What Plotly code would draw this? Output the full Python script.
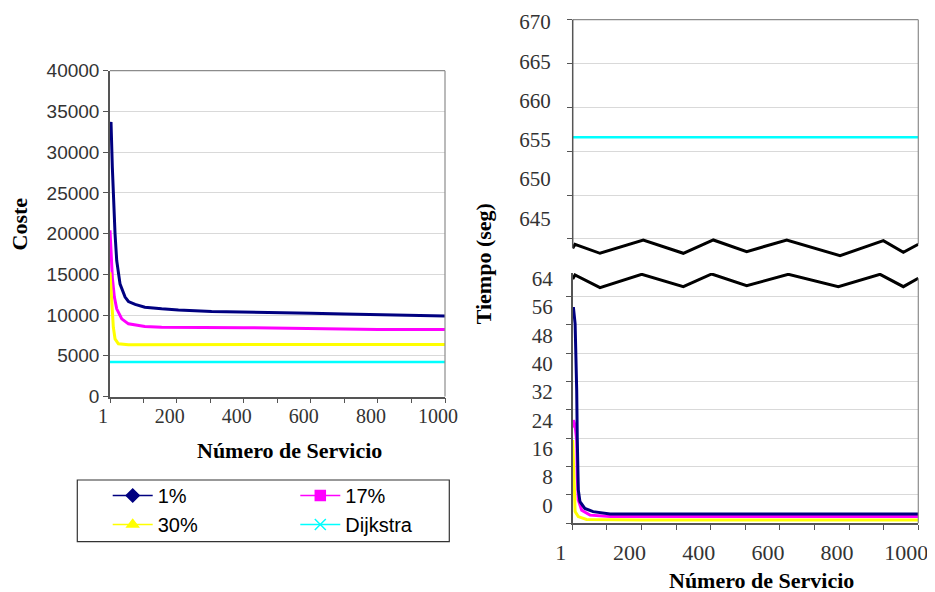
import plotly.graph_objects as go

# target picture is 935x592; the html body adds an 8px margin, so the figure is 927x584
PAGE_OFF = 8
W, H = 935 - PAGE_OFF, 592 - PAGE_OFF

# ---------------- data ----------------
# Left chart: Coste vs Número de Servicio
x_cost_1 = [1, 4, 8, 11, 16, 21, 31, 46, 56, 76, 105, 155, 205, 304, 400, 500, 600, 700, 800, 900, 1000]
cost_1 = [33000, 33700, 28100, 24000, 20000, 16700, 13800, 12200, 11660, 11300, 10960, 10760,
          10620, 10450, 10350, 10290, 10220, 10140, 10060, 9960, 9870]
x_cost_17 = [1, 4, 8, 14, 21, 36, 56, 105, 155, 400, 600, 800, 1000]
cost_17 = [20400, 17900, 14600, 12200, 10760, 9530, 8920, 8590, 8500, 8450, 8300, 8220, 8220]
x_cost_30 = [1, 6, 11, 16, 26, 56, 200, 600, 1000]
cost_30 = [15250, 11800, 8500, 7080, 6470, 6350, 6380, 6380, 6380]
x_cost_dij = [1, 1000]
cost_dij = [4250, 4250]

# Right chart: Tiempo (seg) vs Número de Servicio (broken axis)
x_time_1 = [1, 3, 8, 10.5, 12.6, 14.3, 17.2, 22, 36, 60, 89, 109, 1000]
time_1 = [58, 61, 56.3, 47, 37.5, 23.5, 9.4, 6.1, 4.2, 3.3, 2.8, 2.6, 2.6]
x_time_17 = [1, 3, 7.6, 12.6, 14.3, 17.2, 27, 51, 109, 1000]
time_17 = [27, 29.1, 27.8, 23.5, 13.1, 6.6, 3.7, 2.3, 1.9, 1.9]
x_time_30 = [1, 5, 8, 17, 41, 200, 1000]
time_30 = [23.5, 7.5, 3.3, 1.9, 1.1, 0.9, 0.9]
x_time_dij = [1, 1000]
time_dij = [656.6, 656.6]

series_names = ["1%", "17%", "30%", "Dijkstra"]
series_colors = ["#000080", "#FF00FF", "#FFFF00", "#00FFFF"]
series_symbols = ["diamond", "square", "triangle-up", "x-thin-open"]

x_tickvals = [1, 100, 200, 300, 400, 500, 600, 700, 800, 900, 1000]
x_ticktext = ["1", "", "200", "", "400", "", "600", "", "800", "", "1000"]
cost_ticks = [0, 5000, 10000, 15000, 20000, 25000, 30000, 35000, 40000]
time_ticks_high = [645, 650, 655, 660, 665, 670]
time_ticks_low = [0, 8, 16, 24, 32, 40, 48, 56, 64]

# axis-break zigzag (decoration)
break_x_up = [1, 7.6, 79.9, 205, 320.7, 407.5, 504, 619.7, 773.8, 899, 956.8, 1000]
break_y_up = [643.93, 644.39, 643.36, 644.88, 643.36, 644.88, 643.55, 644.88, 643.09, 644.80, 643.48, 644.39]
break_x_low = [1, 7.6, 79.9, 200.5, 320.7, 402.8, 504, 624.3, 768.9, 889.4, 956.8, 1000]
break_y_low = [68.9, 70.07, 66.48, 70.26, 66.77, 70.35, 67.05, 70.26, 66.77, 70.26, 66.77, 69.14]

# ---------------- figure ----------------
SERIF = "Liberation Serif"
SANS = "Liberation Sans"
AXC = "#555555"
GRID = "#d9d9d9"
TXT = "#333333"

Y2_RANGE = [642.8, 670]
Y3_RANGE = [0, 70.6]


def fx(p):
    return (p - PAGE_OFF) / W


def fy(p):
    return 1 - (p - PAGE_OFF) / H


fig = go.Figure()

left = [(x_cost_1, cost_1), (x_cost_17, cost_17), (x_cost_30, cost_30), (x_cost_dij, cost_dij)]
for i, (xs, ys) in enumerate(left):
    fig.add_trace(go.Scatter(x=xs, y=ys, mode="lines", xaxis="x", yaxis="y",
                             line=dict(color=series_colors[i], width=3 if i < 3 else 2.5),
                             showlegend=False, name=series_names[i]))

fig.add_trace(go.Scatter(x=x_time_dij, y=time_dij, mode="lines", xaxis="x2", yaxis="y2",
                         line=dict(color=series_colors[3], width=2.5), showlegend=False,
                         name=series_names[3]))
fig.add_trace(go.Scatter(x=[None], y=[None], xaxis="x2", yaxis="y4", showlegend=False,
                         hoverinfo="skip"))
fig.add_trace(go.Scatter(x=break_x_up, y=break_y_up, mode="lines", xaxis="x2", yaxis="y2",
                         line=dict(color="black", width=3), showlegend=False, hoverinfo="skip"))

right = [(x_time_30, time_30), (x_time_17, time_17), (x_time_1, time_1)]
right_idx = [2, 1, 0]
for (xs, ys), i in zip(right, right_idx):
    fig.add_trace(go.Scatter(x=xs, y=ys, mode="lines", xaxis="x3", yaxis="y3",
                             line=dict(color=series_colors[i], width=3),
                             showlegend=False, name=series_names[i]))
fig.add_trace(go.Scatter(x=break_x_low, y=break_y_low, mode="lines", xaxis="x3", yaxis="y3",
                         line=dict(color="black", width=3), showlegend=False, hoverinfo="skip"))

# legend-only entries
legend_of = ["legend", "legend2", "legend", "legend2"]
for i in [0, 2, 1, 3]:
    msize = 10 if i != 3 else 11
    fig.add_trace(go.Scatter(x=[None], y=[None], mode="lines+markers", name=series_names[i],
                             xaxis="x", yaxis="y",
                             line=dict(color=series_colors[i], width=1.5),
                             marker=dict(symbol=series_symbols[i], size=msize, color=series_colors[i],
                                         line=dict(color=series_colors[i], width=1.5)),
                             legend=legend_of[i]))

common_x = dict(range=[1, 1000], tickvals=x_tickvals, ticktext=x_ticktext, ticks="outside",
                ticklen=5, tickcolor=AXC, showline=True, linecolor=AXC, linewidth=1.5,
                showgrid=False, zeroline=False)

legend_common = dict(xanchor="left", yanchor="top", orientation="v", itemwidth=40,
                     bgcolor="rgba(0,0,0,0)", borderwidth=0, tracegroupgap=0,
                     font=dict(family=SANS, size=20, color="black"))

fig.update_layout(
    width=W, height=H,
    margin=dict(l=0, r=0, t=0, b=0, autoexpand=False),
    paper_bgcolor="white", plot_bgcolor="white",
    xaxis=dict(domain=[fx(110), fx(445)], anchor="y", ticklabelstandoff=-4, ticklabelshift=-7,
               tickfont=dict(family=SERIF, size=20, color=TXT), **common_x),
    yaxis=dict(domain=[fy(396.5), fy(70.7)], anchor="x", range=[0, 40000], tickvals=cost_ticks,
               tickformat="d",
               ticks="outside", ticklen=5, tickcolor=AXC, showline=True, linecolor=AXC,
               linewidth=1.5, showgrid=True, gridcolor=GRID, gridwidth=1.2, zeroline=False,
               tickfont=dict(family=SANS, size=19, color=TXT), ticklabelstandoff=0),
    xaxis2=dict(domain=[fx(572.7), fx(918.3)], anchor="y2", range=[1, 1000], visible=False),
    yaxis2=dict(domain=[fy(258.2), fy(19.7)], anchor="x2", range=Y2_RANGE,
                tickvals=time_ticks_high, ticks="outside", ticklen=5, tickcolor=AXC,
                showline=False, showgrid=True, gridcolor=GRID,
                gridwidth=1.2, zeroline=False, showticklabels=False),
    yaxis4=dict(overlaying="y2", anchor="x2", side="left", range=[639.91, 670.29],
                tickvals=time_ticks_high, ticks="", showline=False, showgrid=False,
                zeroline=False, tickfont=dict(family=SERIF, size=21, color=TXT),
                ticklabelstandoff=21),
    xaxis3=dict(domain=[fx(572.7), fx(918.3)], anchor="y3", ticklabelstandoff=4,
                ticklabelshift=-12, tickfont=dict(family=SERIF, size=22, color=TXT), **common_x),
    yaxis3=dict(domain=[fy(523.3), fy(273.1)], anchor="x3", range=Y3_RANGE,
                tickvals=time_ticks_low, ticks="outside", ticklen=5, tickcolor=AXC,
                showline=True, linecolor=AXC, linewidth=1.5, showgrid=True, gridcolor=GRID,
                gridwidth=1.2, zeroline=False, tickfont=dict(family=SERIF, size=21, color=TXT),
                ticklabelshift=-18, ticklabelstandoff=9),
    legend=dict(x=fx(107.7), y=fy(476), **legend_common),
    legend2=dict(x=fx(295.3), y=fy(476), **legend_common),
    showlegend=True,
)

# plot-area borders and broken-axis line pieces, legend box
BORDER = "#8c8c8c"
up_left_end = (break_y_up[0] - Y2_RANGE[0]) / (Y2_RANGE[1] - Y2_RANGE[0])
up_right_end = (break_y_up[-1] - Y2_RANGE[0]) / (Y2_RANGE[1] - Y2_RANGE[0])
low_right_end = (break_y_low[-1] - Y3_RANGE[0]) / (Y3_RANGE[1] - Y3_RANGE[0])
shapes = [
    dict(type="line", xref="x domain", yref="y domain", x0=0, x1=1, y0=1, y1=1,
         line=dict(color=BORDER, width=1.2)),
    dict(type="line", xref="x domain", yref="y domain", x0=1, x1=1, y0=0, y1=1,
         line=dict(color=BORDER, width=1.2)),
    dict(type="line", xref="x2 domain", yref="y2 domain", x0=0, x1=1, y0=1, y1=1,
         line=dict(color=BORDER, width=1.2)),
    dict(type="line", xref="x2 domain", yref="y2 domain", x0=1, x1=1, y0=up_right_end, y1=1,
         line=dict(color=BORDER, width=1.2)),
    dict(type="line", xref="x2 domain", yref="y2 domain", x0=0, x1=0, y0=up_left_end, y1=1,
         line=dict(color=AXC, width=1.5)),
    dict(type="line", xref="x3 domain", yref="y3 domain", x0=1, x1=1, y0=0, y1=low_right_end,
         line=dict(color=BORDER, width=1.2)),
    dict(type="rect", xref="paper", yref="paper", x0=fx(77.3), x1=fx(449.3),
         y0=fy(541.7), y1=fy(480), line=dict(color="#333333", width=1.2)),
]
fig.update_layout(shapes=shapes)

title_font = dict(family=SERIF, size=22, color="black", weight="bold")
annotations = [
    dict(text="Número de Servicio", x=fx(289.5), y=fy(450), xref="paper", yref="paper",
         showarrow=False, font=title_font, xanchor="center", yanchor="middle"),
    dict(text="Coste", x=fx(19.5), y=fy(224), xref="paper", yref="paper", textangle=-90,
         showarrow=False, font=title_font, xanchor="center", yanchor="middle"),
    dict(text="Número de Servicio", x=fx(761.7), y=fy(580), xref="paper", yref="paper",
         showarrow=False, font=title_font, xanchor="center", yanchor="middle"),
    dict(text="Tiempo (seg)", x=fx(483), y=fy(263.3), xref="paper", yref="paper", textangle=-90,
         showarrow=False, font=title_font, xanchor="center", yanchor="middle"),
]
fig.update_layout(annotations=annotations)

fig.write_html("out.html")
